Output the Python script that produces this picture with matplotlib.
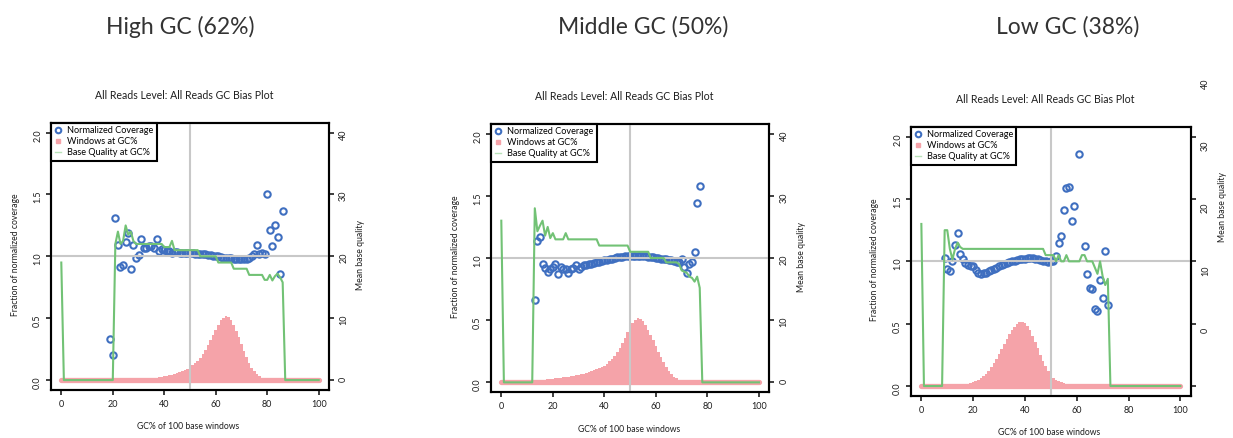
import matplotlib
matplotlib.use('Agg')
import numpy as np
import matplotlib.pyplot as plt
import matplotlib.transforms as mtransforms
from matplotlib.lines import Line2D

plt.rcParams['font.family'] = ['Lato', 'DejaVu Sans']

gc_bins = list(range(101))

panel_titles = ['High GC (62%)', 'Middle GC (50%)', 'Low GC (38%)']
sub_title = 'All Reads Level: All Reads GC Bias Plot'
x_label = 'GC% of 100 base windows'
left_label = 'Fraction of normalized coverage'
right_label = 'Mean base quality'
legend_labels = ['Normalized Coverage', 'Windows at GC%', 'Base Quality at GC%']
x_ticks = [0, 20, 40, 60, 80, 100]
left_ticks = [0.0, 0.5, 1.0, 1.5, 2.0]
right_ticks = [0, 10, 20, 30, 40]

# windows at GC% (scaled to the coverage axis), GC 0..100
windows_high = [
    0, 0, 0, 0, 0, 0, 0, 0, 0, 0,
    0.001, 0.001, 0.001, 0.001, 0.001, 0.001, 0.001, 0.001, 0.001, 0.001,
    0.002, 0.002, 0.003, 0.003, 0.004, 0.004, 0.005, 0.006, 0.007, 0.008,
    0.009, 0.010, 0.011, 0.012, 0.014, 0.016, 0.018, 0.020, 0.023, 0.026,
    0.030, 0.034, 0.038, 0.043, 0.049, 0.055, 0.062, 0.070, 0.080, 0.092,
    0.105, 0.120, 0.138, 0.158, 0.182, 0.210, 0.242, 0.280, 0.322, 0.365,
    0.408, 0.448, 0.482, 0.505, 0.515, 0.508, 0.484, 0.447, 0.400, 0.347,
    0.290, 0.234, 0.183, 0.138, 0.100, 0.070, 0.047, 0.031, 0.020, 0.013,
    0.008, 0.005, 0.003, 0.002, 0.001, 0.001, 0, 0, 0, 0,
    0, 0, 0, 0, 0, 0, 0, 0, 0, 0, 0]
windows_mid = [
    0.001, 0.001, 0.002, 0.002, 0.003, 0.003, 0.004, 0.005, 0.006, 0.007,
    0.008, 0.010, 0.012, 0.014, 0.016, 0.018, 0.020, 0.022, 0.025, 0.027,
    0.030, 0.033, 0.035, 0.038, 0.040, 0.043, 0.046, 0.049, 0.052, 0.056,
    0.060, 0.065, 0.071, 0.077, 0.084, 0.091, 0.099, 0.107, 0.116, 0.125,
    0.135, 0.150, 0.168, 0.190, 0.215, 0.245, 0.280, 0.318, 0.360, 0.405,
    0.446, 0.480, 0.505, 0.518, 0.512, 0.492, 0.462, 0.425, 0.383, 0.338,
    0.292, 0.246, 0.202, 0.160, 0.123, 0.092, 0.066, 0.046, 0.031, 0.021,
    0.014, 0.009, 0.006, 0.004, 0.002, 0.001, 0.001, 0, 0, 0,
    0, 0, 0, 0, 0, 0, 0, 0, 0, 0,
    0, 0, 0, 0, 0, 0, 0, 0, 0, 0, 0]
windows_low = [
    0, 0, 0, 0, 0.001, 0.001, 0.001, 0.002, 0.002, 0.003,
    0.004, 0.005, 0.006, 0.007, 0.009, 0.011, 0.013, 0.016, 0.020, 0.025,
    0.031, 0.039, 0.049, 0.061, 0.077, 0.097, 0.121, 0.149, 0.181, 0.217,
    0.256, 0.297, 0.338, 0.378, 0.415, 0.448, 0.476, 0.498, 0.512, 0.515,
    0.505, 0.482, 0.448, 0.405, 0.355, 0.302, 0.250, 0.201, 0.158, 0.121,
    0.091, 0.068, 0.051, 0.039, 0.030, 0.024, 0.019, 0.015, 0.012, 0.010,
    0.008, 0.006, 0.005, 0.004, 0.003, 0.002, 0.002, 0.001, 0.001, 0.001,
    0, 0, 0, 0, 0, 0, 0, 0, 0, 0,
    0, 0, 0, 0, 0, 0, 0, 0, 0, 0,
    0, 0, 0, 0, 0, 0, 0, 0, 0, 0, 0]

# normalized coverage
cov_gc_high = list(range(19, 87))
cov_high = [
    0.33, 0.20, 1.31, 1.09, 0.91, 0.93, 1.12, 1.19, 0.90, 1.09, 0.99,
    1.01, 1.14, 1.07, 1.07, 1.08, 1.08, 1.07, 1.14, 1.04, 1.06,
    1.05, 1.04, 1.04, 1.03, 1.035, 1.035, 1.03, 1.03, 1.03, 1.03,
    1.025, 1.025, 1.02, 1.02, 1.02, 1.015, 1.015, 1.01, 1.01, 1.005,
    1.0, 1.0, 0.995, 0.99, 0.99, 0.99, 0.985, 0.98, 0.98, 0.975,
    0.975, 0.975, 0.98, 0.99, 1.0, 1.02, 1.09, 1.02, 1.03, 1.02,
    1.50, 1.21, 1.08, 1.25, 1.16, 0.86, 1.37]
cov_gc_mid = list(range(13, 78))
cov_mid = [
    0.66, 1.14, 1.17, 0.95, 0.92, 0.89, 0.91,
    0.93, 0.95, 0.87, 0.93, 0.91, 0.91, 0.88, 0.915, 0.92, 0.94,
    0.915, 0.93, 0.94, 0.945, 0.95, 0.955, 0.96, 0.965, 0.97, 0.975,
    0.98, 0.985, 0.99, 0.995, 1.0, 1.005, 1.01, 1.012, 1.015, 1.018,
    1.02, 1.02, 1.02, 1.02, 1.02, 1.015, 1.015, 1.01, 1.01, 1.005,
    1.0, 1.0, 0.995, 0.99, 0.99, 0.985, 0.98, 0.975, 0.97, 0.97,
    0.995, 0.93, 0.88, 0.95, 0.97, 1.05, 1.44, 1.58]
cov_gc_low = list(range(9, 60)) + [61] + list(range(63, 73))
cov_low = [
    1.03, 0.94, 0.92, 1.00, 1.13, 1.23, 1.06, 1.02, 0.985, 0.97, 0.965,
    0.96, 0.93, 0.905, 0.90, 0.905, 0.91, 0.92, 0.93, 0.94, 0.95,
    0.96, 0.97, 0.98, 0.99, 0.995, 1.0, 1.005, 1.01, 1.015, 1.02,
    1.02, 1.025, 1.025, 1.025, 1.02, 1.015, 1.01, 1.005, 1.0, 0.995,
    1.0, 1.0, 1.04, 1.15, 1.20, 1.41, 1.59, 1.60, 1.32, 1.44,
    1.86,
    1.12, 0.90, 0.79, 0.78, 0.62, 0.60, 0.85, 0.71, 1.08, 0.65]

# mean base quality, GC 0..100
quality_high = [19] + [0] * 20 + [
    22, 24, 22, 22.5, 25, 23.5, 24, 22.5, 22,
    22, 22, 22, 22, 22, 22, 22, 22, 22, 22,
    21.5, 21.5, 21.5, 22.5, 21, 21, 21, 21, 21, 21,
    21, 21, 21, 21, 20, 20, 20, 20, 20, 20,
    20, 19, 19, 19, 19, 19, 19, 18, 18, 18,
    18, 18, 18, 17, 17, 17, 17, 17, 17, 16.2,
    16.2, 17, 16.1, 16.8, 17.2, 16.6, 15.8] + [0] * 14
quality_mid = [26] + [0] * 12 + [
    28, 24.3, 25.2, 26, 23.6, 25, 23.2,
    24, 23, 23, 23, 23, 24, 23, 23, 23, 23,
    23, 23, 23, 23, 23, 23, 23, 23, 22, 22,
    22, 22, 22, 22, 22, 22, 22, 22, 22, 22,
    21, 21, 21, 21, 21, 21, 21, 21, 20, 20,
    20, 20, 20, 20, 19.3, 19.3, 19.3, 19.3, 19.3, 19,
    18, 17.8, 17.6, 17, 16.8, 16.2, 17, 15.2] + [0] * 23
quality_low = [26] + [0] * 8 + [
    25, 25, 22, 20.3, 22, 23, 22.3, 22, 22, 22,
    22, 22, 22, 22, 22, 22, 22, 22, 22, 22,
    22, 22, 22, 22, 22, 22, 22, 22, 22, 22,
    22, 22, 22, 22, 22, 22, 22, 22, 22, 21,
    21, 21, 21, 20, 21, 20, 20, 21, 20, 20,
    20, 20, 20, 21, 21, 20, 20, 20, 19, 18,
    20, 17.6, 16.2, 17.2] + [0] * 28

BLUE = '#3f6fc0'
PINK = '#f5a3a9'
GREEN = '#72c275'
GREY = '#c8c8c8'
INK = '#1e1e1e'


def draw_panel(fig, rect, windows, cov_gc, cov, quality, right_shift=0.0, label_y=0.505):
    ax = fig.add_axes(rect)
    ax.set_xlim(-4, 104)
    ax.set_ylim(-0.08, 2.08)
    # window histogram: solid steps plus a thick rounded baseline
    ax.fill_between(gc_bins, 0, windows, step='mid', color=PINK, lw=0, zorder=1)
    ax.plot(gc_bins, np.zeros(len(gc_bins)), color=PINK, lw=3.8,
            solid_capstyle='round', zorder=1)
    ax.plot(cov_gc, cov, ls='none', marker='o', ms=4.6, mfc='none', mec=BLUE, mew=1.5, zorder=2)
    ax.axvline(50, color=GREY, lw=1.5, zorder=3)
    ax.axhline(1.0, color=GREY, lw=1.5, zorder=3)
    ax.set_xticks(x_ticks)
    ax.set_yticks(left_ticks)
    ax.set_yticklabels(['%.1f' % t for t in left_ticks])
    ax.tick_params(direction='out', length=3.8, width=1.2, labelsize=6.5, colors=INK)
    ax.tick_params(axis='x', pad=3.5)
    ax.tick_params(axis='y', labelrotation=90, pad=2.5)
    for s in ax.spines.values():
        s.set_linewidth(1.5)

    ax2 = ax.twinx()
    ax2.set_ylim(-1.6, 41.6)
    ax2.plot(gc_bins, quality, color=GREEN, lw=1.5)
    ax2.set_yticks(right_ticks)
    ax2.tick_params(direction='out', length=3.8, width=1.2, labelsize=6.5, colors=INK)
    ax2.tick_params(axis='y', labelrotation=90, pad=3.5)
    for s in ax2.spines.values():
        s.set_linewidth(1.5)
    if right_shift:
        offset = mtransforms.ScaledTranslation(0, right_shift, fig.dpi_scale_trans)
        for lab in ax2.get_yticklabels():
            lab.set_transform(lab.get_transform() + offset)

    handles = [
        Line2D([], [], ls='none', marker='o', ms=4, mfc='none', mec=BLUE, mew=1.5),
        Line2D([], [], ls='none', marker='s', ms=3.2, color=PINK),
        Line2D([], [], color='#b8e2b8', lw=1),
    ]
    leg = ax.legend(handles, legend_labels, loc='upper left', borderaxespad=0, fontsize=6.6,
                    handlelength=0.7, handletextpad=0.6, borderpad=0.4, labelspacing=0.22,
                    fancybox=False, framealpha=1, edgecolor='black')
    leg.get_frame().set_linewidth(1.5)
    leg.set_zorder(5)

    ax.text(0.479, 1.10, sub_title, transform=ax.transAxes, ha='center', va='center',
            fontsize=7.6, color=INK)
    ax.text(0.495, -0.137, x_label, transform=ax.transAxes, ha='center', va='center',
            fontsize=6.2, color=INK)
    ax.text(-0.129, 0.505, left_label, transform=ax.transAxes, ha='center', va='center',
            rotation=90, fontsize=6.2, color=INK)
    ax.text(1.115, label_y, right_label, transform=ax.transAxes, ha='center', va='center',
            rotation=90, fontsize=6.2, color=INK)
    return ax


def main():
    fig = plt.figure(figsize=(12.33, 4.38), dpi=100)
    W, H = 1233.0, 438.0
    boxes = [(51, 329, 122.7, 390), (491, 769.3, 123.7, 392.3), (911, 1190.7, 126.7, 396)]
    rects = [(l / W, 1 - b / H, (r - l) / W, (b - t) / H) for l, r, t, b in boxes]
    title_x = [180, 643, 1068]

    draw_panel(fig, rects[0], windows_high, cov_gc_high, cov_high, quality_high)
    draw_panel(fig, rects[1], windows_mid, cov_gc_mid, cov_mid, quality_mid)
    draw_panel(fig, rects[2], windows_low, cov_gc_low, cov_low, quality_low,
               right_shift=0.55, label_y=0.703)

    for x, t in zip(title_x, panel_titles):
        fig.text(x / W, 1 - 26.5 / H, t, ha='center', va='center', fontsize=16.5, color='#333333')

    fig.savefig('out.png', dpi=100)


if __name__ == '__main__':
    main()
